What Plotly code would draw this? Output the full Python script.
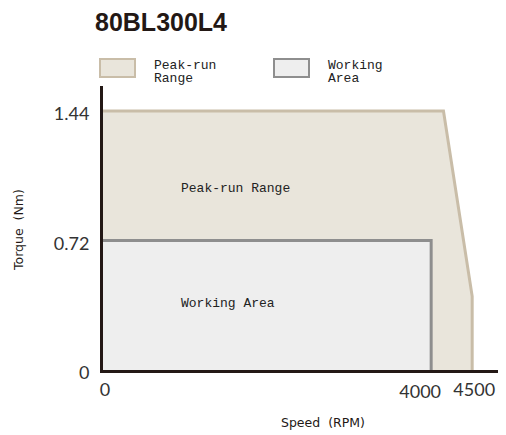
import plotly.graph_objects as go

# ---------------- Data ----------------
peak_speed = [0, 0, 4150, 4500, 4500]
peak_torque = [0, 1.44, 1.44, 0.41, 0]
work_speed = [0, 0, 4000, 4000]
work_torque = [0, 0.72, 0.72, 0]
x_ticks_main = [0, 4500]
x_ticklabels_main = ["0", "4500"]
x_ticks_rated = [4000]
x_ticklabels_rated = ["4000"]
y_ticks = [0, 0.72, 1.44]
y_ticklabels = ["0", "0.72", "1.44"]
title = "80BL300L4"
legend_names = ["Peak-run<br>Range", "Working<br>Area"]
region_labels = ["Peak-run Range", "Working Area"]
region_label_pos = [(930, 1.01), (930, 0.372)]
x_title = "Speed  (RPM)"
y_title = "Torque  (Nm)"

# ---------------- Style ----------------
PEAK_FILL = "#E9E5DB"
PEAK_LINE = "#C9BDA8"
WORK_FILL = "#EEEEEE"
WORK_LINE = "#8E8E8E"
AXIS = "#231815"
TXT = "#231815"
MONO = "Liberation Mono"
SANS = "Lato"
X_RANGE = [0, 4900]
Y_RANGE = [0, 1.579]

# page has an 8px body margin: figure drawn at (8, 8)
W, H = 498, 427
L, T, PW, PH = 95, 78, 402, 284

def px_x(ref_px):
    return (ref_px - 8 - L) / PW

def px_y(ref_py):
    return (T + PH - (ref_py - 8)) / PH

fig = go.Figure()
fig.add_trace(go.Scatter(x=peak_speed, y=peak_torque, fill="toself", fillcolor=PEAK_FILL,
                         mode="lines", line=dict(width=0), hoverinfo="skip", showlegend=False))
fig.add_trace(go.Scatter(x=peak_speed[1:], y=peak_torque[1:], mode="lines",
                         line=dict(color=PEAK_LINE, width=3), hoverinfo="skip", showlegend=False))
fig.add_trace(go.Scatter(x=work_speed, y=work_torque, fill="toself", fillcolor=WORK_FILL,
                         mode="lines", line=dict(width=0), hoverinfo="skip", showlegend=False))
fig.add_trace(go.Scatter(x=work_speed[1:], y=work_torque[1:], mode="lines",
                         line=dict(color=WORK_LINE, width=3), hoverinfo="skip", showlegend=False))
# invisible trace on the secondary x axis so its tick is drawn
fig.add_trace(go.Scatter(x=[X_RANGE[0]], y=[0], xaxis="x2", mode="markers",
                         marker=dict(opacity=0), hoverinfo="skip", showlegend=False))

tickfont = dict(family=SANS, size=18, color="#333333")

fig.update_layout(
    width=W, height=H,
    margin=dict(l=L, r=W - L - PW, t=T, b=H - T - PH),
    paper_bgcolor="white", plot_bgcolor="white",
    showlegend=False,
    xaxis=dict(range=X_RANGE, showline=True, linewidth=3, linecolor=AXIS, showgrid=False,
               zeroline=False, tickvals=x_ticks_main, ticktext=x_ticklabels_main, ticks="",
               ticklabelstandoff=1, ticklabelshift=2, tickfont=tickfont),
    xaxis2=dict(range=X_RANGE, overlaying="x", anchor="y", side="bottom", showline=False,
                showgrid=False, zeroline=False, tickvals=x_ticks_rated,
                ticktext=x_ticklabels_rated, ticks="", ticklabelstandoff=9,
                ticklabelshift=-11, tickfont=tickfont),
    yaxis=dict(range=Y_RANGE, showline=True, linewidth=3, linecolor=AXIS, showgrid=False,
               zeroline=False, tickvals=y_ticks, ticktext=y_ticklabels, ticks="",
               ticklabelstandoff=7, ticklabelshift=3, tickfont=tickfont),
)

# region labels
for txt, (xv, yv) in zip(region_labels, region_label_pos):
    fig.add_annotation(x=xv, y=yv, xref="x", yref="y", text=txt, showarrow=False,
                       xanchor="left", yanchor="middle",
                       font=dict(family=MONO, size=13, color="#222222"))

# axis titles
fig.add_annotation(text=x_title, xref="paper", yref="paper", x=px_x(323), y=px_y(422),
                   showarrow=False, xanchor="center", yanchor="middle",
                   font=dict(family="DejaVu Sans", size=12.5, color=TXT))
fig.add_annotation(text=y_title, xref="paper", yref="paper", x=px_x(18), y=px_y(230),
                   showarrow=False, xanchor="center", yanchor="middle", textangle=-90,
                   font=dict(family="DejaVu Sans", size=12.5, color=TXT))

# chart title
fig.add_annotation(text="<b>" + title + "</b>", xref="paper", yref="paper",
                   x=px_x(93), y=px_y(22), showarrow=False, xanchor="left", yanchor="middle",
                   font=dict(family="Liberation Sans", size=25, color=TXT))

# legend
legend_fills = [PEAK_FILL, WORK_FILL]
legend_lines = [PEAK_LINE, WORK_LINE]
legend_x = [100, 274]
for i, name in enumerate(legend_names):
    fig.add_shape(type="rect", xref="paper", yref="paper",
                  x0=px_x(legend_x[i]), x1=px_x(legend_x[i] + 35), y0=px_y(77), y1=px_y(59),
                  fillcolor=legend_fills[i], line=dict(color=legend_lines[i], width=2))
    for j, part in enumerate(name.split("<br>")):
        fig.add_annotation(text=part, xref="paper", yref="paper",
                           x=px_x(legend_x[i] + 52), y=px_y(65.5 + 12.5 * j),
                           xanchor="left", yanchor="middle", showarrow=False,
                           font=dict(family=MONO, size=13, color="#222222"))

fig.write_html("out.html")
